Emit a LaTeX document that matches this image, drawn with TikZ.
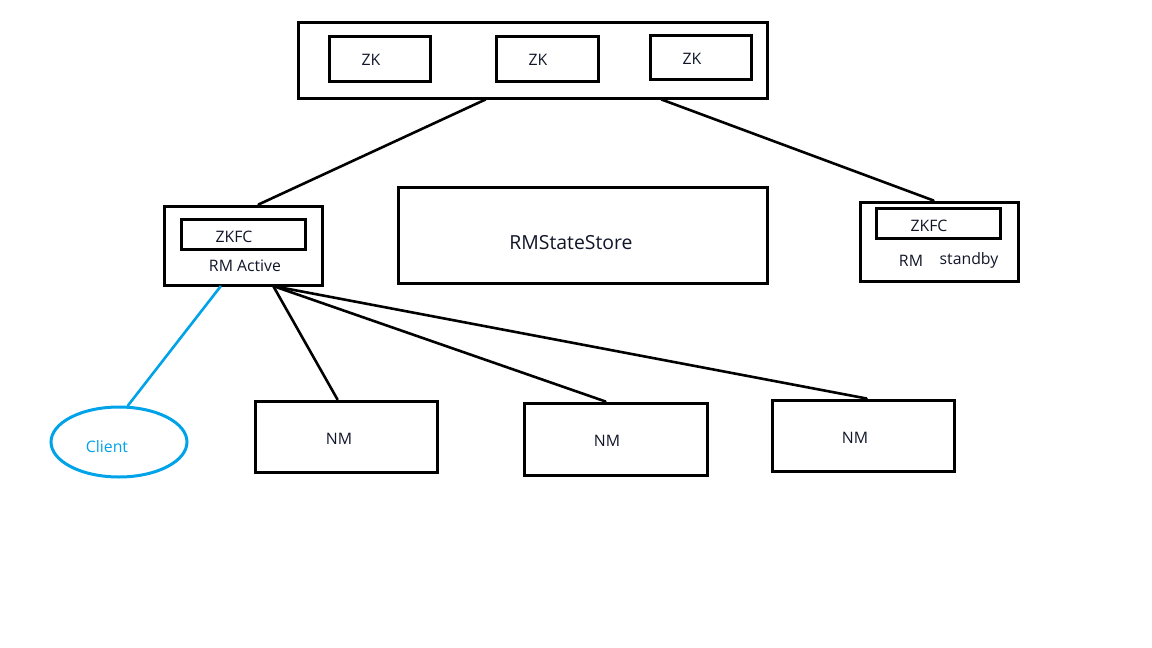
\documentclass[tikz,border=0pt]{standalone}
\usepackage{fontspec}
\setmainfont{Open Sans}
\usepackage{tikz}
\usetikzlibrary{shapes.geometric,calc}
\definecolor{paintblue}{HTML}{00A2E8}
\definecolor{inkdark}{HTML}{101528}

\begin{document}
\begin{tikzpicture}[x=1pt,y=1pt,yscale=-1,xscale=1,
    box/.style={draw,line width=3,inner sep=0pt},
    txt/.style={inner sep=0.75pt,text=inkdark,font=\fontsize{15.8}{18}\selectfont},
    link/.style={line width=2.6,line cap=round}]
    \useasboundingbox (0,0) rectangle (1152,648);
    %Shape: Rectangle [zookeeper group]
    \node[box,minimum width=469,minimum height=76] (zkall) at (532.5,60) {};
    \node[box,minimum width=101,minimum height=45] (zka) at (379.5,58.5) {};
    \node[box,minimum width=102,minimum height=45] (zkb) at (547,58.5) {};
    \node[box,minimum width=101,minimum height=44] (zkc) at (700.5,57) {};
    % Text Node
    \node[txt] (zkatxt) at (371,60) {ZK};
    \node[txt] (zkbtxt) at (538,60) {ZK};
    \node[txt] (zkctxt) at (692,59) {ZK};
    %Shape: Rectangle [active RM]
    \node[box,minimum width=158,minimum height=79] (active) at (243,245.5) {};
    \node[box,minimum width=124,minimum height=30] (zkfca) at (243,234) {};
    \node[txt] (zkfcatxt) at (234,237) {ZKFC};
    \node[txt] (activetxt) at (245,266) {RM Active};
    %Shape: Rectangle [state store]
    \node[box,minimum width=369,minimum height=96] (store) at (582.5,235) {};
    \node[txt,font=\fontsize{19.4}{22}\selectfont] (storetxt) at (571,243) {RMStateStore};
    %Shape: Rectangle [standby RM]
    \node[box,minimum width=158,minimum height=79] (standby) at (939,241.5) {};
    \node[box,minimum width=124,minimum height=30] (zkfcb) at (938,223) {};
    \node[txt] (zkfcbtxt) at (929,226) {ZKFC};
    \node[txt] (rmtxt) at (911,261) {RM};
    \node[txt] (standbytxt) at (969,260) {standby};
    %Shape: Rectangle [node managers]
    \node[box,minimum width=182,minimum height=71] (nma) at (346,436.5) {};
    \node[box,minimum width=183,minimum height=72] (nmb) at (615.5,439) {};
    \node[box,minimum width=182,minimum height=71] (nmc) at (863,435.5) {};
    \node[txt] (nmatxt) at (339,439) {NM};
    \node[txt] (nmbtxt) at (607,441) {NM};
    \node[txt] (nmctxt) at (855,438) {NM};
    %Shape: Ellipse [client]
    \node[draw=paintblue,line width=3,ellipse,minimum width=136,minimum height=70,inner sep=0pt] (client) at (119,442) {};
    \node[txt,text=paintblue] (clienttxt) at (107,447) {Client};
    %Straight Lines
    \draw[link] ($(zkall.south west)+(189,0)$) -- ($(active.north west)+(96,0)$);
    \draw[link] ($(zkall.south west)+(365,0)$) -- ($(standby.north west)+(75,0)$);
    \draw[link,draw=paintblue] ($(active.south west)+(58,0)$) -- ($(client.north)+(9,0)$);
    \draw[link] ($(active.south west)+(111,0)$) -- ($(nma.north west)+(84,0)$);
    \draw[link] ($(active.south west)+(112,0)$) -- ($(nmb.north west)+(83,0)$);
    \draw[link] ($(active.south west)+(113,0)$) -- ($(nmc.north west)+(96,0)$);
\end{tikzpicture}
\end{document}
